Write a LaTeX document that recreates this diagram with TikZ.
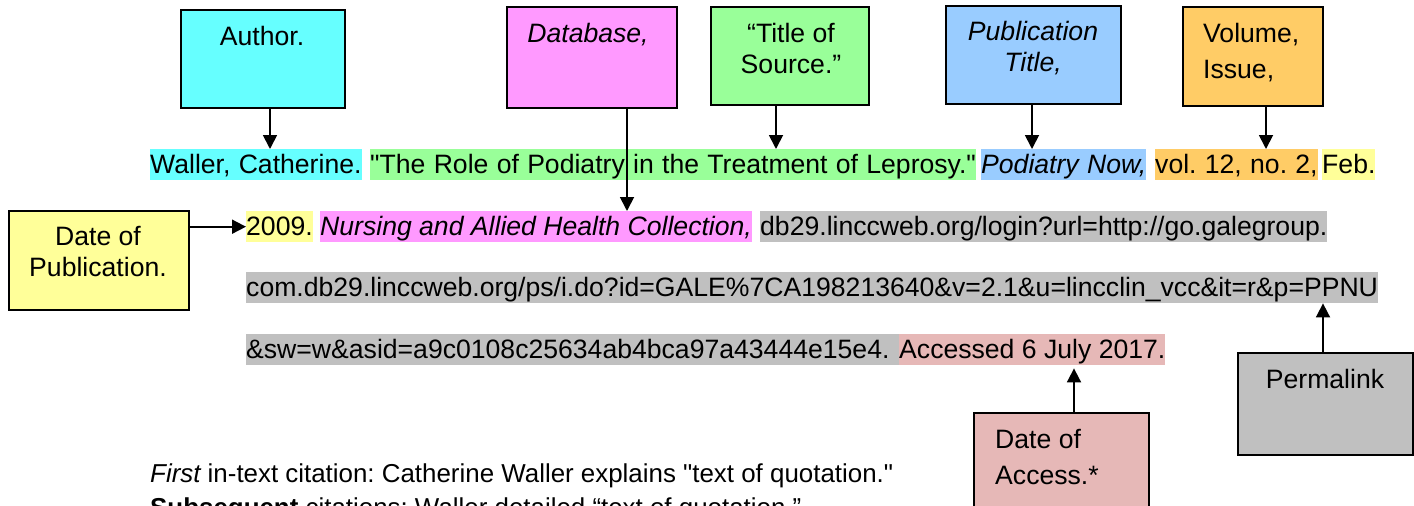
\documentclass[tikz,border=0pt]{standalone}
\usepackage{fontspec}
\setmainfont{Liberation Sans}[Ligatures=TeXOff]
\usetikzlibrary{arrows.meta}
\definecolor{cCyan}{HTML}{66FFFF}
\definecolor{cGreen}{HTML}{99FF99}
\definecolor{cMag}{HTML}{FF99FF}
\definecolor{cBlue}{HTML}{99CCFF}
\definecolor{cOrange}{HTML}{FFCC66}
\definecolor{cYellow}{HTML}{FFFF99}
\definecolor{cGray}{HTML}{C0C0C0}
\definecolor{cRose}{HTML}{E6B8B7}
\newcommand\myWideSpace{\spaceskip=8.3pt\relax}
\frenchspacing
\begin{document}
\begin{tikzpicture}[x=1pt,y=-1pt,
  font=\fontsize{26.6}{31}\selectfont\frenchspacing,
  hl/.style={inner xsep=0pt, inner ysep=0pt, text height=24pt, text depth=7pt, anchor=north west},
  wide/.style={font=\fontsize{26.6}{31}\selectfont\frenchspacing\myWideSpace},
  box/.style={draw=black, line width=1.8pt, anchor=north west, inner sep=0pt},
  lbl/.style={anchor=base, inner sep=0pt},
  lblw/.style={anchor=base west, inner sep=0pt},
  note/.style={anchor=base west, inner sep=0pt, font=\fontsize{25.9}{31}\selectfont\frenchspacing},
  arr/.style={line width=1.8pt, -{Triangle[length=14pt,width=14pt]}}
]
\useasboundingbox (0,0) rectangle (1414,506);

% ---- label boxes
\node[box, fill=cCyan, minimum width=164pt, minimum height=98pt] (author) at (180,9) {};
\node[lbl] (authorT) at (262,45) {Author.};

\node[box, fill=cMag, minimum width=170pt, minimum height=101pt] (db) at (506,6) {};
\node[lbl] (dbT) at (588,42) {\itshape Database,};

\node[box, fill=cGreen, minimum width=158pt, minimum height=98pt] (title) at (710,6) {};
\node[lbl] (titleT1) at (791,42) {“Title of};
\node[lbl] (titleT2) at (791,73) {Source.”};

\node[box, fill=cBlue, minimum width=175pt, minimum height=98pt] (pub) at (945,5) {};
\node[lbl] (pubT1) at (1033,40) {\itshape Publication};
\node[lbl] (pubT2) at (1033,71) {\itshape Title,};

\node[box, fill=cOrange, minimum width=140pt, minimum height=99pt] (vol) at (1182,6) {};
\node[lblw] (volT1) at (1203,42) {Volume,};
\node[lblw] (volT2) at (1203,78) {Issue,};

\node[box, fill=cYellow, minimum width=180pt, minimum height=99pt] (dop) at (8,210) {};
\node[lbl] (dopT1) at (98,245) {Date of};
\node[lbl] (dopT2) at (98,276) {Publication.};

\node[box, fill=cGray, minimum width=175pt, minimum height=102pt] (perma) at (1237,352) {};
\node[lbl] (permaT) at (1325,388) {Permalink};

\node[box, fill=cRose, minimum width=175pt, minimum height=120pt] (doa) at (973,412) {};
\node[lblw] (doaT1) at (995,448) {Date of};
\node[lblw] (doaT2) at (995,484) {Access.*};

% ---- citation text
\node[hl, wide, fill=cCyan] (waller) at (150,149) {Waller, Catherine.};
\node[hl, wide, fill=cGreen] (role) at (370,149) {"The Role of Podiatry in the Treatment of Leprosy."};
\node[hl, wide, fill=cBlue] (podnow) at (981,149) {\itshape Podiatry Now,};
\node[hl, wide, fill=cOrange] (volno) at (1155,149) {vol. 12, no. 2,};
\node[hl, wide, fill=cYellow] (feb) at (1322,149) {Feb.};

\node[hl, fill=cYellow] (y2009) at (246,211) {2009.};
\node[hl, fill=cMag] (nursing) at (320,211) {\itshape Nursing and Allied Health Collection,};
\node[hl, fill=cGray] (url1) at (760,211) {db29.linccweb.org/login?url=http://go.galegroup.};

\node[hl, fill=cGray] (url2) at (246,272) {com.db29.linccweb.org/ps/i.do?id=GALE\%7CA198213640\&v=2.1\&u=lincclin\_vcc\&it=r\&p=PPNU};

\node[hl, fill=cGray, text width=653pt, align=left] (url3) at (246,334) {\&sw=w\&asid=a9c0108c25634ab4bca97a43444e15e4.};
\node[hl, fill=cRose] (accessed) at (899,334) {Accessed 6 July 2017.};

% ---- bottom notes
\node[note] (first) at (150,482) {{\itshape First} in-text citation: Catherine Waller explains "text of quotation."};
\node[note] (subs) at (150,516) {\textbf{Subsequent} citations: Waller detailed “text of quotation.”};

% ---- connectors
\draw[arr] (270,0 |- author.south) -- (270,0 |- waller.north);
\draw[arr] (627,0 |- db.south) -- (627,0 |- nursing.north);
\draw[arr] (776,0 |- title.south) -- (776,0 |- role.north);
\draw[arr] (1032,0 |- pub.south) -- (1032,0 |- podnow.north);
\draw[arr] (1266,0 |- vol.south) -- (1266,0 |- volno.north);
\draw[arr] (dop.east |- y2009.west) -- (y2009.west);
\draw[arr] (1323,0 |- perma.north) -- (1323,0 |- url2.south);
\draw[arr, shorten >=3pt] (1074,0 |- doa.north) -- (1074,0 |- accessed.south);
\end{tikzpicture}
\end{document}
